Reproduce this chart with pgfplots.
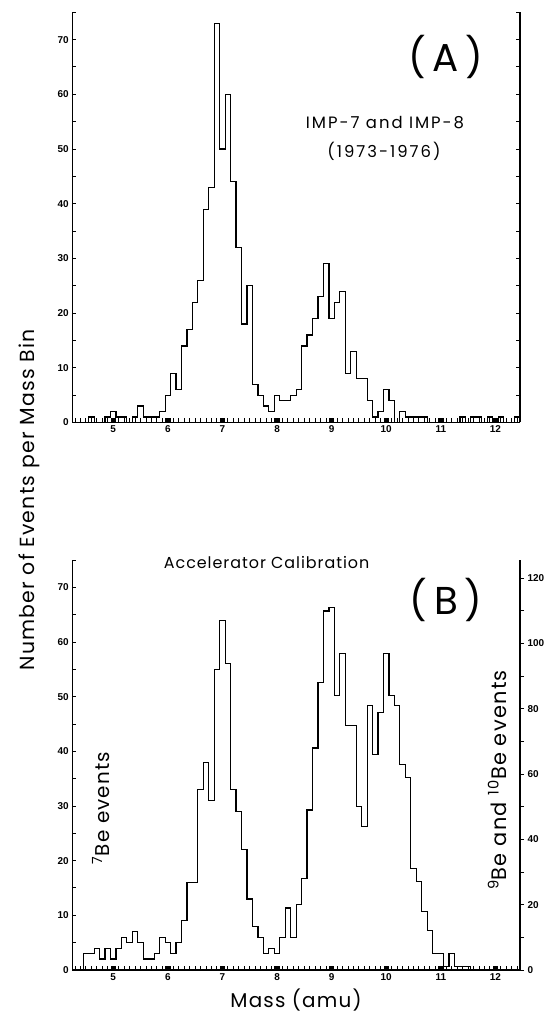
\documentclass[border=0pt]{standalone}
\usepackage{fontspec}
\setmainfont{Poppins}
\newfontfamily\lab[LetterSpace=6]{Poppins}
\newfontfamily\labw[LetterSpace=12]{Poppins}
\newfontfamily\tickfont{Liberation Sans}
\usepackage{pgfplots}
\pgfplotsset{compat=1.18}
\pgfplotsset{
  histaxis/.style={
    scale only axis, width=447.7bp, height=410.2bp,
    xmin=4.25, xmax=12.45, ymin=0,
    clip=false,
    tick align=inside,
    major tick length=4bp, minor tick length=4bp,
    axis line style={line width=1.3bp},
    every tick/.style={black, line width=1bp},
    ticklabel style={font=\tickfont\bfseries\fontsize{10}{11}\selectfont},
    /pgf/number format/assume math mode=true,
  },
  xbottom/.style={
    axis x line*=bottom, axis y line*=left,
    xtick={5,6,7,8,9,10,11,12},
    minor xtick={4.3,4.4,...,12.4},
    major x tick style={line width=5.4bp},
    ytick={0,10,...,70}, minor ytick={5,15,...,75},
  },
  hist/.style={const plot, black, line width=1.2bp, mark=none},
}
\begin{document}
\begin{tikzpicture}
\useasboundingbox (0,0) rectangle (545bp,1018bp);

% ---------------- Panel A ----------------
\begin{axis}[histaxis, xbottom, at={(72.3bp,595.5bp)}, anchor=south west, ymax=75]
\addplot[hist] coordinates {
(4.55,0) (4.55,1) (4.65,0) (4.85,1) (4.95,2) (5.05,1) (5.15,1) (5.25,0) (5.35,1)
(5.45,3) (5.55,1) (5.65,1) (5.75,1) (5.85,2) (5.95,5) (6.05,9) (6.15,6) (6.25,14)
(6.35,17) (6.45,22) (6.55,26) (6.65,39) (6.75,43) (6.85,73) (6.95,50) (7.05,60)
(7.15,44) (7.25,32) (7.35,18) (7.45,25) (7.55,7) (7.65,5) (7.75,3) (7.85,2) (7.95,5)
(8.05,4) (8.15,4) (8.25,5) (8.35,6) (8.45,14) (8.55,16) (8.65,19) (8.75,23) (8.85,29)
(8.95,19) (9.05,22) (9.15,24) (9.25,9) (9.35,13) (9.45,8) (9.55,8) (9.65,4) (9.75,1)
(9.85,2) (9.95,6) (10.05,4) (10.15,0) (10.25,2) (10.35,1) (10.45,1) (10.55,1) (10.65,1)
(10.75,0) (11.35,1) (11.45,0) (11.55,1) (11.65,1) (11.75,0) (11.85,1) (11.95,0)
(12.05,1) (12.15,0) (12.35,1) (12.45,1) (12.45,0)
};
\end{axis}
\begin{axis}[histaxis, at={(72.3bp,595.5bp)}, anchor=south west, ymax=75,
  axis x line=none, axis y line*=right,
  ytick={0,5,...,75}, yticklabels={}]
\end{axis}

% ---------------- Panel B ----------------
\begin{axis}[histaxis, xbottom, at={(72.3bp,48bp)}, anchor=south west, height=410bp, ymax=75]
\addplot[hist] coordinates {
(4.45,0) (4.45,3) (4.55,3) (4.65,4) (4.75,2) (4.85,4) (4.95,2) (5.05,4) (5.15,6)
(5.25,5) (5.35,7) (5.45,5) (5.55,2) (5.65,2) (5.75,3) (5.85,6) (5.95,5) (6.05,3)
(6.15,5) (6.25,9) (6.35,16) (6.45,16) (6.55,33) (6.65,38) (6.75,31) (6.85,55)
(6.95,64) (7.05,56) (7.15,33) (7.25,29) (7.35,22) (7.45,13) (7.55,8) (7.65,6)
(7.75,3) (7.85,4) (7.95,3) (8.05,3)
};
\end{axis}
\begin{axis}[histaxis, at={(72.3bp,48bp)}, anchor=south west, height=410bp,
  ymax=125.6, axis x line=none, axis y line*=right, tick align=outside,
  ytick={0,20,...,120}, minor ytick={10,30,...,110}]
\addplot[hist] coordinates {
(8.05,5) (8.05,10) (8.15,19) (8.25,10) (8.35,20) (8.45,28) (8.55,49) (8.65,68)
(8.75,88) (8.85,110) (8.95,111) (9.05,84) (9.15,97) (9.25,75) (9.35,75) (9.45,50)
(9.55,44) (9.65,81) (9.75,66) (9.85,79) (9.95,97) (10.05,84) (10.15,81) (10.25,63)
(10.35,59) (10.45,31) (10.55,27) (10.65,18) (10.75,12) (10.85,5) (10.95,5) (11.05,1)
(11.15,5) (11.25,1) (11.35,1) (11.45,1) (11.55,1) (11.55,0)
};
\end{axis}

% ---------------- Texts ----------------
\node[rotate=90, font=\lab\fontsize{20.5}{22}\selectfont] at (29bp,518bp) {Number of Events per Mass Bin};
\node[font=\fontsize{39}{40}\selectfont] at (446bp,961bp) {(\,A\,)};
\node[font=\labw\fontsize{16.5}{18}\selectfont] at (385bp,895bp) {IMP-7 and IMP-8};
\node[font=\labw\fontsize{16.5}{18}\selectfont] at (384bp,867bp) {(1973-1976)};
\node[font=\lab\fontsize{16}{17}\selectfont] at (266.6bp,455bp) {Accelerator Calibration};
\node[font=\fontsize{39}{40}\selectfont] at (446bp,418bp) {(\,B\,)};
\node[rotate=90, font=\lab\fontsize{20}{22}\selectfont] at (101bp,210bp) {\textsuperscript{7}Be events};
\node[rotate=90, font=\lab\fontsize{21}{22}\selectfont] at (497bp,238bp) {\textsuperscript{9}Be and \textsuperscript{10}Be events};
\node[font=\lab\fontsize{20}{22}\selectfont, anchor=south] at (296bp,3bp) {Mass (amu)};
\end{tikzpicture}
\end{document}
